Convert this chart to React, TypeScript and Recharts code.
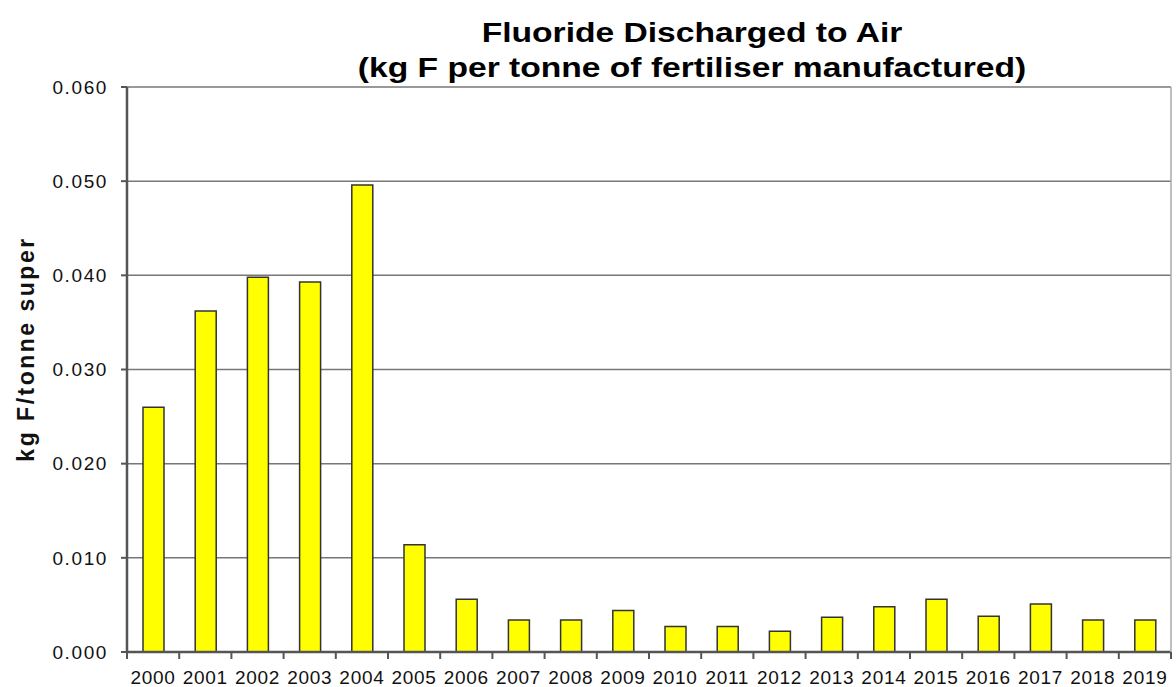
import { BarChart, Bar, XAxis, YAxis, CartesianGrid } from 'recharts'

const YEARS = [
  '2000', '2001', '2002', '2003', '2004', '2005', '2006', '2007', '2008', '2009',
  '2010', '2011', '2012', '2013', '2014', '2015', '2016', '2017', '2018', '2019',
]
const FLUORIDE = [
  0.026, 0.0362, 0.0398, 0.0393, 0.0496, 0.0114, 0.0056, 0.0034, 0.0034, 0.0044,
  0.0027, 0.0027, 0.0022, 0.0037, 0.0048, 0.0056, 0.0038, 0.0051, 0.0034, 0.0034,
]
const Y_TICKS = [0, 0.01, 0.02, 0.03, 0.04, 0.05, 0.06]
const TITLE = ['Fluoride Discharged to Air', '(kg F per tonne of fertiliser manufactured)']
const Y_LABEL = 'kg F/tonne super'

const FONT = '"Liberation Sans", Arial, sans-serif'
const AXIS_GREY = '#555'

// year label plus tick marks on the category boundaries (Excel style)
function YearTick(props: any) {
  const { x, y, payload, index } = props
  const half = payload?.offset ?? 0
  const isLast = index === YEARS.length - 1
  return (
    <g>
      <line x1={x - half} x2={x - half} y1={y} y2={y + 7} stroke={AXIS_GREY} strokeWidth={2} />
      {isLast && (
        <line x1={x + half} x2={x + half} y1={y} y2={y + 7} stroke={AXIS_GREY} strokeWidth={2} />
      )}
      <text
        x={x}
        y={y + 32}
        textAnchor="middle"
        fill="#111"
        fontSize={19}
        fontFamily={FONT}
        letterSpacing={0.7}
      >
        {payload.value}
      </text>
    </g>
  )
}

export default function App() {
  const data = YEARS.map((year, i) => ({ year, value: FLUORIDE[i] }))

  return (
    <div style={{ position: 'absolute', left: 0, top: 0, width: 1176, height: 687, background: '#fff' }}>
      {/* Title */}
      <div
        style={{
          position: 'absolute',
          left: 692,
          top: 15,
          transform: 'translateX(-50%) scaleX(1.2)',
          whiteSpace: 'nowrap',
          textAlign: 'center',
          fontFamily: FONT,
          fontWeight: 'bold',
          fontSize: 28,
          lineHeight: '35px',
          color: '#000',
          zIndex: 2,
        }}
      >
        {TITLE.map((line) => (
          <div key={line}>{line}</div>
        ))}
      </div>

      <BarChart
        width={1176}
        height={687}
        data={data}
        margin={{ top: 87, right: 0, left: 0, bottom: 0 }}
        barSize={21}
      >
        <CartesianGrid horizontal vertical={false} stroke="#777" strokeWidth={1.5} />
        <XAxis
          dataKey="year"
          height={35}
          interval={0}
          tickLine={false}
          tickSize={0}
          tickMargin={0}
          axisLine={{ stroke: AXIS_GREY, strokeWidth: 2.5 }}
          tick={<YearTick />}
        />
        <YAxis
          domain={[0, 0.06]}
          ticks={Y_TICKS}
          interval={0}
          width={127}
          tickFormatter={(v: number) => v.toFixed(3)}
          tickSize={6}
          tickMargin={13}
          tickLine={{ stroke: AXIS_GREY, strokeWidth: 2 }}
          axisLine={{ stroke: AXIS_GREY, strokeWidth: 2.5 }}
          tick={{ fill: '#111', fontSize: 19, fontFamily: FONT, letterSpacing: 1.6 }}
          label={{
            content: () => (
              <text
                x={34}
                y={349}
                transform="rotate(-90, 34, 349)"
                textAnchor="middle"
                fontFamily={FONT}
                fontWeight="bold"
                fontSize={23}
                letterSpacing={2.5}
                fill="#111"
              >
                {Y_LABEL}
              </text>
            ),
          }}
        />
        <YAxis
          yAxisId="right"
          orientation="right"
          domain={[0, 0.06]}
          width={5}
          tick={false}
          tickLine={false}
          axisLine={{ stroke: '#aaa', strokeWidth: 1.5 }}
        />
        <Bar
          dataKey="value"
          fill="#ffff00"
          stroke="#333"
          strokeWidth={1.5}
          isAnimationActive={false}
        />
      </BarChart>
    </div>
  )
}
